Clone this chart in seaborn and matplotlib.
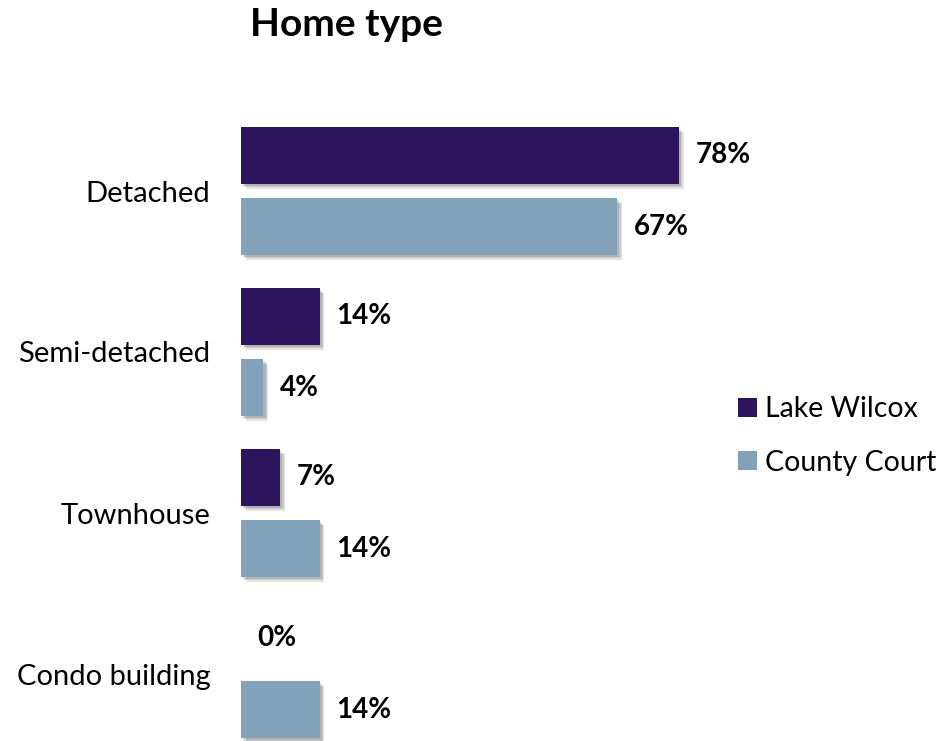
import matplotlib
matplotlib.use("Agg")
import matplotlib.pyplot as plt
import matplotlib.patheffects as pe
import seaborn as sns
import pandas as pd

categories = ["Detached", "Semi-detached", "Townhouse", "Condo building"]
areas = ["Lake Wilcox", "County Court"]
lake_wilcox = [78, 14, 7, 0]
county_court = [67, 4, 14, 14]
colors = ["#2D155E", "#82A2B9"]

df = pd.DataFrame({
    "category": categories * 2,
    "area": [areas[0]] * 4 + [areas[1]] * 4,
    "share": lake_wilcox + county_court,
})

sns.set_theme(style="white")
plt.rcParams["font.family"] = ["Lato", "DejaVu Sans"]
plt.rcParams["text.color"] = "black"

fig = plt.figure(figsize=(9.41, 7.41), dpi=100)
ax = fig.add_axes([241 / 941, 0, 561.5 / 941, 1])

sns.barplot(data=df, y="category", x="share", hue="area", order=categories,
            hue_order=areas, palette=colors, orient="h", width=0.882, gap=0.2,
            linewidth=0, saturation=1, ax=ax)

ax.set_xlim(0, 100)
ax.set_ylim(550 / 161, -191 / 161)

# soft drop shadow under every bar
shadow = [pe.SimplePatchShadow(offset=(d, -d), shadow_rgbFace="black", alpha=0.11)
          for d in (1.5, 2.5, 3.5)]
for p in ax.patches:
    p.set_path_effects(shadow + [pe.Normal()])

for cont in ax.containers:
    ax.bar_label(cont, labels=[f"{v:.0f}%" for v in cont.datavalues],
                 padding=12, fontsize=20, fontweight="bold", color="black")

for s in ax.spines.values():
    s.set_visible(False)
ax.set_xticks([])
ax.set_xlabel("")
ax.set_ylabel("")
ax.tick_params(axis="y", length=0, pad=22, labelsize=21, labelcolor="black")

sns.move_legend(ax, loc="center left", bbox_to_anchor=(724 / 941, 1 - 436 / 741),
                bbox_transform=fig.transFigure, frameon=False, title=None,
                fontsize=20.5, handlelength=0.65, handleheight=0.65,
                handletextpad=0.3, labelspacing=0.98, borderpad=0,
                labelcolor="black")

fig.text(250 / 941, 1 - 25 / 741, "Home type", fontsize=28, fontweight="bold",
         ha="left", va="center", color="black")

fig.savefig("out.png", dpi=100)
